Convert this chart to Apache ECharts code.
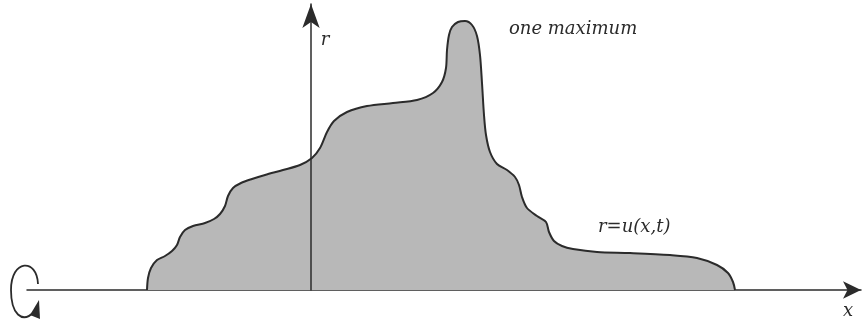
<!DOCTYPE html>
<html>
<head>
<meta charset="utf-8">
<script src="https://cdn.jsdelivr.net/npm/echarts@6/dist/echarts.min.js"></script>
<style>
html,body{margin:0;padding:0;background:#fff;}
#chart{width:863px;height:322px;}
</style>
</head>
<body>
<div id="chart"></div>
<script>
// profile r = u(x,t): x position along the axis (vertical axis at 0), r height above the x axis
var xs = [-164,-163,-160,-154,-146,-139,-134,-131,-126,-118,
          -106,-97,-91,-86,-83,-78,-70,-59,-46,-28,
          -11,1,9,16,23,36,56,82,106,122,
          131,135,136,138,141,147,154,161,166,169,
          171,173,175,179,186,196,204,208,211,216,
          226,235,238,243,251,262,286,319,359,386,
          406,417,422,424];
var rs = [0,12,22,30,34,39,45,53,60,64,
          67,71,76,84,94,102,107,111,115,120,
          125,132,142,158,169,178,184,187,190,197,
          208,222,240,255,263,268,269,265,254,235,
          207,175,155,138,126,120,113,105,93,82,
          74,68,58,49,44,41,38,37,35,32,
          25,17,8,0];
var labels = { peak: 'one maximum', curve: 'r=u(x,t)', xName: 'x', rName: 'r' };

var data = xs.map(function (x, i) { return [x, rs[i]]; });
var chart = echarts.init(document.getElementById('chart'), null, { renderer: 'canvas' });
var ink = '#2b2b2b';
var font = 'italic 18px "DejaVu Serif", serif';
chart.setOption({
  animation: false,
  grid: { left: 27, right: 2, top: 4, bottom: 32 },
  xAxis: {
    type: 'value', min: -284, max: 550,
    axisLine: { onZero: true, symbol: ['none', 'arrow'], symbolSize: [13, 18],
      lineStyle: { color: ink, width: 1.5 } },
    axisTick: { show: false }, axisLabel: { show: false }, splitLine: { show: false }
  },
  yAxis: {
    type: 'value', min: 0, max: 286, z: 5,
    axisLine: { onZero: true, symbol: ['none', 'arrow'], symbolSize: [13, 24],
      lineStyle: { color: ink, width: 1.5 } },
    axisTick: { show: false }, axisLabel: { show: false }, splitLine: { show: false }
  },
  series: [{
    type: 'line', data: data, smooth: 0.3, showSymbol: false, z: 2,
    lineStyle: { color: ink, width: 2 },
    areaStyle: { color: '#b8b8b8', opacity: 1 }
  }],
  graphic: [
    { type: 'text', style: { text: labels.peak, x: 509, y: 29, font: font, fill: ink, textAlign: 'left', textVerticalAlign: 'middle' } },
    { type: 'text', style: { text: labels.curve, x: 598, y: 227, font: font, fill: ink, textAlign: 'left', textVerticalAlign: 'middle' } },
    { type: 'text', style: { text: labels.rName, x: 325, y: 40, font: font, fill: ink, textAlign: 'center', textVerticalAlign: 'middle' } },
    { type: 'text', style: { text: labels.xName, x: 848, y: 311, font: font, fill: ink, textAlign: 'center', textVerticalAlign: 'middle' } },
    { type: 'bezierCurve', shape: { x1: 38, y1: 284, cpx1: 37, cpy1: 258, cpx2: 11, cpy2: 259, x2: 11, y2: 290 },
      style: { fill: null, stroke: ink, lineWidth: 1.8 } },
    { type: 'bezierCurve', shape: { x1: 11, y1: 290, cpx1: 11, cpy1: 314, cpx2: 22, cpy2: 324, x2: 34, y2: 312 },
      style: { fill: null, stroke: ink, lineWidth: 1.8 } },
    { type: 'polygon', shape: { points: [[39, 300], [30, 315], [40, 319]] }, style: { fill: ink } }
  ]
});
</script>
</body>
</html>
